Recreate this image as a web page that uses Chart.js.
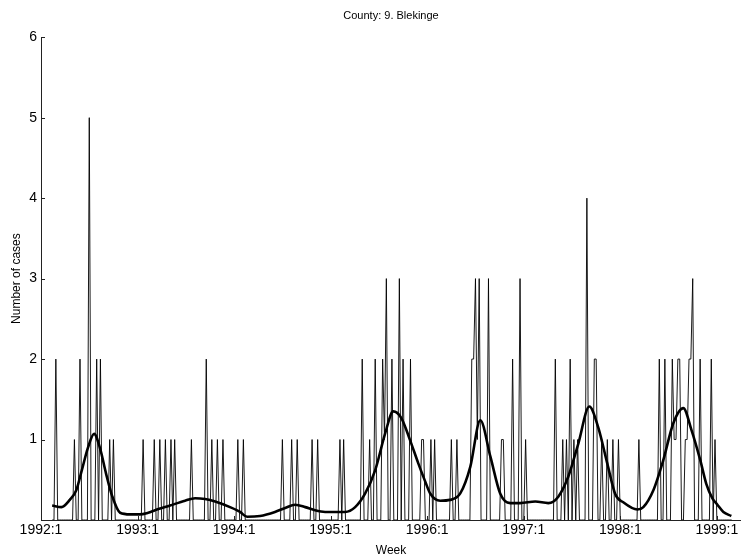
<!DOCTYPE html>
<html>
<head>
<meta charset="utf-8">
<title>County: 9. Blekinge</title>
<script src="https://cdn.jsdelivr.net/npm/chart.js@4/dist/chart.umd.min.js"></script>
<style>
  html, body { margin: 0; padding: 0; background: #fff; }
  #chart { display: block; }
</style>
</head>
<body>
<canvas id="chart" width="741" height="560"></canvas>
<script>
// weekly case counts, 52 weeks per year; 1992 starts at week 7
const firstWeek = 6;
const cases1992 = [
  0,0,2,0,0,0,0,0,0,0,0,0,1,0,0,2,0,0,0,0,5,0,0,0,2,0,
  2,0,0,0,0,1,0,1,0,0,0,0,0,0,0,0,0,0,0,0
];
const cases1993 = [
  0,0,0,1,0,0,0,0,0,1,0,0,1,
  0,0,1,0,0,1,0,1,0,0,0,0,0,
  0,0,0,1,0,0,0,0,0,0,0,2,0,
  0,1,0,0,1,0,0,1,0,0,0,0,0
];
const cases1994 = [
  0,0,1,0,0,1,0,0,0,0,0,0,0,
  0,0,0,0,0,0,0,0,0,0,0,0,0,
  1,0,0,0,0,1,0,0,1,0,0,0,0,
  0,0,0,1,0,0,1,0,0,0,0,0,0
];
const cases1995 = [
  0,0,0,0,0,1,0,1,0,0,0,0,0,
  0,0,0,0,2,0,0,0,1,0,0,2,0,
  0,0,2,1,3,0,0,2,0,0,0,3,0,
  2,0,0,0,2,0,0,0,0,0,1,1,0
];
const cases1996 = [
  0,0,1,0,1,0,0,0,0,0,0,0,0,
  1,0,0,1,0,0,0,0,0,0,0,2,2,
  3,1,3,0,0,0,0,3,0,0,0,0,0,
  0,1,1,0,0,0,0,2,0,0,0,3,0
];
const cases1997 = [
  0,1,0,0,0,0,0,0,0,0,0,0,0,
  0,0,0,0,2,0,0,0,1,0,1,0,2,
  0,1,0,1,0,0,0,0,4,0,0,0,2,
  2,0,0,1,0,0,1,0,0,1,0,0,1
];
const cases1998 = [
  0,0,0,0,0,0,0,0,0,0,1,0,0,
  0,0,0,0,0,0,0,0,2,0,0,2,0,
  0,0,2,1,1,2,2,0,0,1,1,2,2,
  3,0,0,0,2,0,0,0,0,0,2,0,1
];
const cases1999 = [0,0,0,0,0,0,0,0,0];

// smoothed level (week index, cases)
const trendWeeks = [
  6, 11, 15.5, 19, 22, 25.3, 28.6, 31.8, 35, 38.3, 42.6, 48, 53, 57.7, 61.4,
  69.5, 77.6, 83, 88.4, 93.8, 101.8, 107.2, 111, 118, 126, 131.5, 136.9, 142.3,
  147.6, 153, 163.8, 169.2, 174.6, 180, 185.4, 189.7, 194, 198.8, 203.1, 206.9,
  209.6, 215, 220.4, 225.8, 231.2, 236.6, 242, 247.3, 252.7, 258.1, 266.2,
  273.2, 278.6, 284, 289.4, 295.3, 300.1, 305, 309.3, 313.6, 321.2, 324.4,
  329.8, 335.1, 340.5, 345.9, 350.3, 355.1, 358.3, 361.6, 364.3, 367.5, 371.8
];
const trendLevels = [
  0.18, 0.16, 0.25, 0.37, 0.62, 0.90, 1.07, 0.89, 0.58, 0.30, 0.09, 0.07, 0.07, 0.09, 0.12,
  0.18, 0.24, 0.27, 0.26, 0.23, 0.16, 0.10, 0.04, 0.05, 0.10, 0.15, 0.19, 0.16,
  0.12, 0.10, 0.10, 0.16, 0.33, 0.62, 1.08, 1.35, 1.27, 0.99, 0.71, 0.48,
  0.33, 0.24, 0.25, 0.33, 0.66, 1.24, 0.79, 0.33, 0.21, 0.21, 0.23,
  0.21, 0.29, 0.54, 0.95, 1.41, 1.15, 0.70, 0.32, 0.22, 0.13, 0.16,
  0.37, 0.74, 1.20, 1.39, 1.12, 0.74, 0.45, 0.27, 0.19, 0.10, 0.05
];

const yearLabels = ['1992:1', '1993:1', '1994:1', '1995:1', '1996:1', '1997:1', '1998:1', '1999:1'];
const weeksPerYear = 52;
const caseTicks = [1, 2, 3, 4, 5, 6];

const weeklyCases = [].concat(cases1992, cases1993, cases1994, cases1995,
  cases1996, cases1997, cases1998, cases1999);
const casePoints = weeklyCases.map((n, i) => ({ x: firstWeek + i, y: n }));
const trendPoints = trendWeeks.map((w, i) => ({ x: w, y: trendLevels[i] }));

const font = 'Liberation Sans, Arial, Helvetica, sans-serif';

// short tick marks drawn inside the plot, like the original axes
const innerTicks = {
  id: 'innerTicks',
  afterDraw(chart) {
    const { ctx, chartArea, scales } = chart;
    ctx.save();
    ctx.strokeStyle = '#222';
    ctx.lineWidth = 1;
    ctx.beginPath();
    scales.y.ticks.forEach((t) => {
      if (t.value === 0) return;
      const y = Math.round(scales.y.getPixelForValue(t.value)) + 0.5;
      ctx.moveTo(chartArea.left, y);
      ctx.lineTo(chartArea.left + 4, y);
    });
    scales.x.ticks.forEach((t) => {
      const x = Math.round(scales.x.getPixelForValue(t.value)) + 0.5;
      ctx.moveTo(x, chartArea.bottom);
      ctx.lineTo(x, chartArea.bottom - 4);
    });
    ctx.stroke();
    ctx.restore();
  }
};

new Chart(document.getElementById('chart'), {
  type: 'line',
  data: {
    datasets: [
      {
        label: 'Smoothed',
        data: trendPoints,
        borderColor: '#000',
        borderWidth: 2.6,
        pointRadius: 0,
        cubicInterpolationMode: 'monotone',
        fill: false
      },
      {
        label: 'Number of cases',
        data: casePoints,
        borderColor: 'rgba(0,0,0,0.9)',
        borderWidth: 1,
        pointRadius: 0,
        tension: 0,
        fill: false
      }
    ]
  },
  options: {
    responsive: false,
    animation: false,
    devicePixelRatio: 1,
    layout: { padding: 0 },
    plugins: {
      legend: { display: false },
      tooltip: { enabled: false },
      title: {
        display: true,
        text: 'County: 9. Blekinge',
        color: '#000',
        fullSize: false,
        font: { family: font, size: 11, weight: 'normal' },
        padding: { top: 9, bottom: 15 }
      }
    },
    scales: {
      x: {
        type: 'linear',
        min: 0,
        max: 377,
        afterFit(scale) { scale.height = 40; },
        afterBuildTicks(scale) {
          scale.ticks = yearLabels.map((_, i) => ({ value: i * weeksPerYear }));
        },
        ticks: {
          color: '#000',
          font: { family: font, size: 14 },
          padding: 2,
          maxRotation: 0,
          autoSkip: false,
          callback: (v) => yearLabels[Math.round(v / weeksPerYear)]
        },
        grid: { display: true, drawOnChartArea: false, drawTicks: false },
        border: { display: true, color: '#222', width: 1 },
        title: {
          display: true,
          text: 'Week',
          color: '#000',
          font: { family: font, size: 12 },
          padding: { top: 0, bottom: 2 }
        }
      },
      y: {
        min: 0,
        max: 6,
        afterFit(scale) { scale.width = 41; },
        afterBuildTicks(scale) {
          scale.ticks = [0].concat(caseTicks).map((v) => ({ value: v }));
        },
        ticks: {
          color: '#000',
          font: { family: font, size: 14 },
          padding: 4,
          callback: (v) => (v === 0 ? '' : String(v))
        },
        grid: { display: true, drawOnChartArea: false, drawTicks: false },
        border: { display: true, color: '#222', width: 1 },
        title: {
          display: true,
          text: 'Number of cases',
          color: '#000',
          font: { family: font, size: 12 },
          padding: { top: 9, bottom: 0 }
        }
      }
    }
  },
  plugins: [innerTicks]
});
</script>
</body>
</html>
